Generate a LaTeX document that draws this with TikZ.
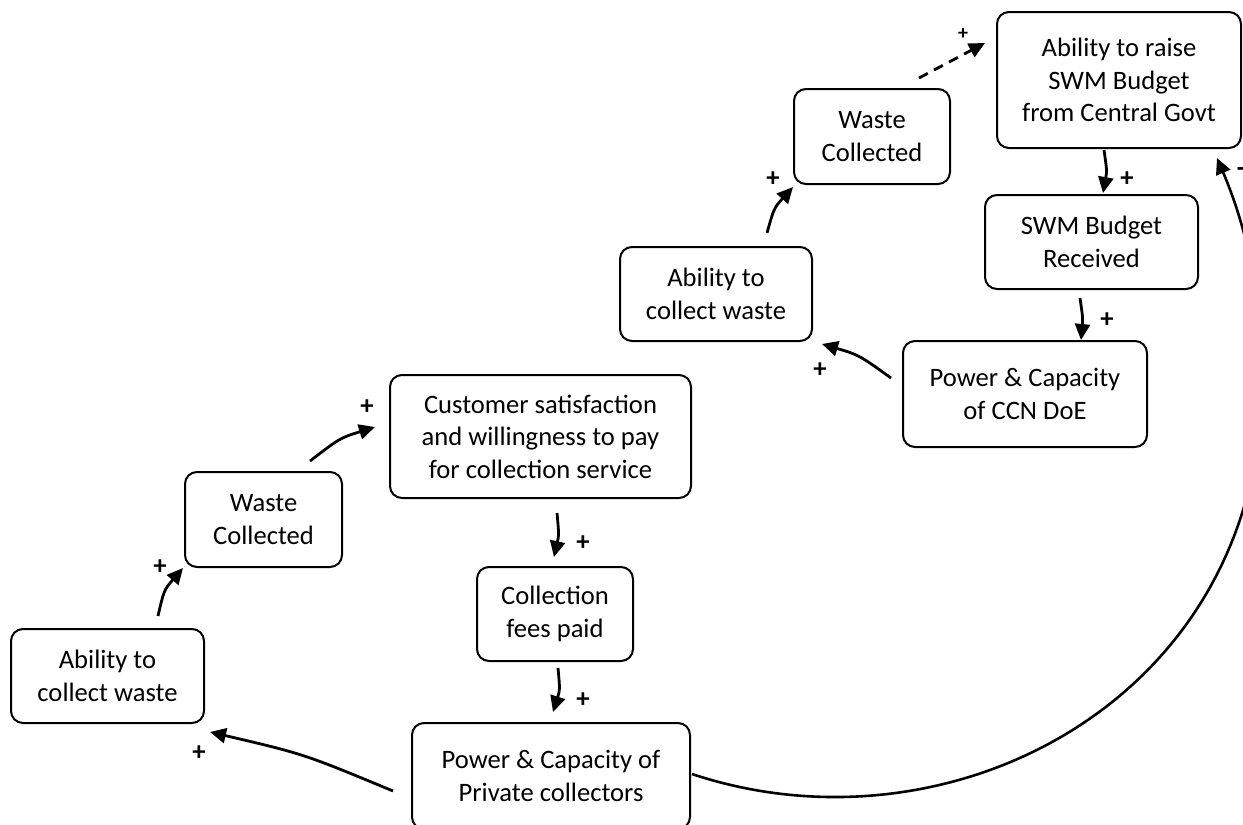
\documentclass[tikz,border=0pt]{standalone}
\usepackage{fontspec}
\setmainfont{Carlito}
\usetikzlibrary{arrows.meta,calc}
\begin{document}
\begin{tikzpicture}[x=0.5pt,y=-0.5pt,
  box/.style={draw, rounded corners=6pt, line width=1pt, align=center, inner sep=0pt,
    font=\fontsize{13.3}{16.25}\selectfont},
  link/.style={line width=1.4pt, -{Triangle[length=8pt,width=7.5pt]}},
  dlink/.style={link, dash pattern=on 5pt off 3.5pt},
  sign/.style={font=\fontsize{13.3}{16}\selectfont\bfseries, inner sep=0pt},
  smallsign/.style={font=\fontsize{10}{12}\selectfont\bfseries, inner sep=0pt}]
\useasboundingbox (0,0) rectangle (1243,825);
\clip (0,0) rectangle (1243,825);

% boxes
\node[box, minimum width=122pt, minimum height=68pt] (raise) at (1119,80) {Ability to raise\\SWM Budget\\from Central Govt};
\node[box, minimum width=78pt, minimum height=47.5pt] (wc2) at (872,136.5) {Waste\\Collected};
\node[box, minimum width=106.5pt, minimum height=47pt] (bud) at (1091.5,242) {SWM Budget\\Received};
\node[box, minimum width=122pt, minimum height=53pt] (ccn) at (1025,394) {Power \& Capacity\\of CCN DoE};
\node[box, minimum width=96pt, minimum height=47pt] (acw2) at (716,294) {Ability to\\collect waste};
\node[box, minimum width=150.5pt, minimum height=61.5pt] (cust) at (540.5,436.5) {Customer satisfaction\\and willingness to pay\\for collection service};
\node[box, minimum width=78pt, minimum height=47pt] (fees) at (555,614) {Collection\\fees paid};
\node[box, minimum width=139pt, minimum height=53pt] (priv) at (551,776) {Power \& Capacity of\\Private collectors};
\node[box, minimum width=78.5pt, minimum height=47.5pt] (wc1) at (263.5,519.5) {Waste\\Collected};
\node[box, minimum width=96.5pt, minimum height=47pt] (acw1) at (107.5,676) {Ability to\\collect waste};

% connectors
\draw[link] ($(acw1.center)+(50.5,-60)$) .. controls (164,590) .. ($(wc1.center)+(-80.5,48.5)$);
\draw[link] ($(wc1.center)+(46.5,-58.5)$) .. controls (340,438) .. ($(cust.center)+(-165.5,-9.5)$);
\draw[link] ($(cust.center)+(16.5,76.5)$) .. controls (559,535) .. ($(fees.center)+(-1,-57)$);
\draw[link] ($(fees.center)+(3,54)$) .. controls (560,690) .. ($(priv.center)+(2,-64)$);
\draw[link] ($(priv.center)+(-158,15)$) .. controls (304,754) .. ($(acw1.center)+(102.5,56)$);
\draw[link] ($(ccn.center)+(-134,-16)$) .. controls (859,355) .. ($(acw2.center)+(106,50)$);
\draw[link] ($(acw2.center)+(51,-61)$) .. controls (774,208) .. ($(wc2.center)+(-79,50.5)$);
\draw[dlink] ($(wc2.center)+(47,-58.5)$) -- ($(raise.center)+(-134,-37)$);
\draw[link] ($(raise.center)+(-15,70)$) .. controls (1107,171) .. ($(bud.center)+(11.5,-49)$);
\draw[link] ($(bud.center)+(-11.5,56)$) .. controls (1083,319) .. ($(ccn.center)+(56,-54)$);
\coordinate (far) at (1262,380);
\draw[link, line width=1.3pt] ($(priv.center)+(141,-2)$) .. controls (950,860) and (1262,700) .. (far)
   .. controls (1262,280) and (1240,212) .. ($(raise.center)+(98,78)$);

% polarity signs
\node[sign] (p1) at (160,567) {+};
\node[sign] (p2) at (367,407) {+};
\node[sign] (p3) at (583,543) {+};
\node[sign] (p4) at (583,700) {+};
\node[sign] (p5) at (199,753) {+};
\node[sign] (p6) at (820,370) {+};
\node[sign] (p7) at (773,179) {+};
\node[smallsign] (p8) at (963,34) {+};
\node[sign] (p9) at (1127,179) {+};
\node[sign] (p10) at (1107,320) {+};
\node[sign] (m1) at (1241,172) {-};
\end{tikzpicture}
\end{document}
